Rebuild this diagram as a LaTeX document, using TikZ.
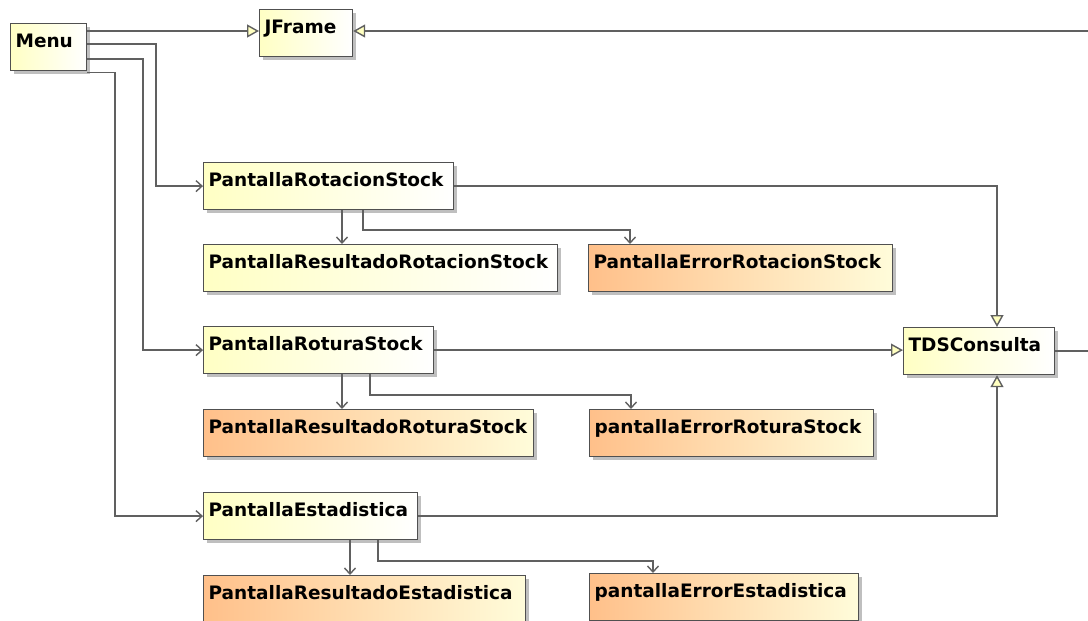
\documentclass[tikz,border=0pt]{standalone}
\usepackage{fontspec}
\setmainfont{DejaVu Sans}
\usetikzlibrary{arrows.meta,shadows}
\definecolor{boxyellow}{HTML}{FFFFC4}
\definecolor{boxorange}{HTML}{FFC08A}
\definecolor{boxcream}{HTML}{FFFCDA}
\definecolor{boxborder}{HTML}{505050}
\definecolor{linkgray}{HTML}{606060}
\definecolor{tipfill}{HTML}{FFFFC0}
\hyphenpenalty=10000

\begin{document}
\begin{tikzpicture}[
    x=1pt, y=-1pt,
    class/.style={draw=boxborder, line width=1.2pt, rectangle, anchor=north west, inner xsep=5pt, inner ysep=5pt,
        text height=19pt, text depth=18pt, align=left, font=\bfseries\fontsize{18.5}{20}\selectfont,
        drop shadow={shadow xshift=3pt, shadow yshift=-3pt, opacity=0.5}},
    plain/.style={class, left color=boxyellow, right color=white},
    screen/.style={class, left color=boxorange, right color=boxcream},
    gen/.style={draw=linkgray, line width=1.4pt, -{Triangle[length=12pt, width=13pt, fill=tipfill]}},
    assoc/.style={draw=linkgray, line width=1.4pt, -{Straight Barb[length=6pt, width=11pt]}}
]
    \useasboundingbox (0,0) rectangle (1088,621);

    % Top classes
    \node[plain, text width=66pt] (menu) at (10,23) {Menu};
    \node[plain, text width=83pt] (jframe) at (259,9) {JFrame};
    \node[plain, text width=141pt] (tds) at (903,327) {TDSConsulta};

    % Rotacion
    \node[plain, text width=240pt] (prs) at (203,162) {PantallaRotacionStock};
    \node[plain, text width=344pt] (prres) at (203,244) {PantallaResultadoRotacionStock};
    \node[screen, text width=294pt] (prerr) at (588,244) {PantallaErrorRotacionStock};

    % Rotura
    \node[plain, text width=220pt] (prot) at (203,326) {PantallaRoturaStock};
    \node[screen, text width=320pt] (protres) at (203,409) {PantallaResultadoRoturaStock};
    \node[screen, text width=274pt] (proterr) at (589,409) {pantallaErrorRoturaStock};

    % Estadistica
    \node[plain, text width=204pt] (pest) at (203,492) {PantallaEstadistica};
    \node[screen, text width=312pt] (pestres) at (203,575) {PantallaResultadoEstadistica};
    \node[screen, text width=259pt] (pesterr) at (589,573) {pantallaErrorEstadistica};

    % Off-page ends
    \coordinate (outtop) at (1088,31);
    \coordinate (outmid) at (1088,351);

    % Inheritance
    \draw[gen] ([yshift=-8pt]menu.north east) -- ([yshift=-8pt]menu.north east -| jframe.west);
    \draw[gen] (outtop) -- (outtop -| jframe.east);
    \draw[gen] (prs.east) -| ([xshift=94pt]tds.north west);
    \draw[gen] (prot.east) -- (prot.east -| tds.west);
    \draw[gen] (pest.east) -| ([xshift=94pt]tds.south west);
    \draw[draw=linkgray, line width=1.4pt] (tds.east) -- (tds.east -| outmid);

    % Menu links
    \draw[assoc] ([yshift=-21pt]menu.north east) -| ([xshift=-47pt]prs.west) -- (prs.west);
    \draw[assoc] ([yshift=-36pt]menu.north east) -| ([xshift=-60pt]prot.west) -- (prot.west);
    \draw[assoc] ([yshift=-1.5pt]menu.south east) -| ([xshift=-88pt]pest.west) -- (pest.west);

    % Screen links
    \draw[assoc] ([xshift=139pt]prs.south west) -- ([xshift=139pt]prs.south west |- prres.north);
    \draw[assoc] ([xshift=160pt]prs.south west) |- ([xshift=42pt,yshift=14pt]prerr.north west) -- ([xshift=42pt]prerr.north west);
    \draw[assoc] ([xshift=139pt]prot.south west) -- ([xshift=139pt]prot.south west |- protres.north);
    \draw[assoc] ([xshift=167pt]prot.south west) |- ([xshift=42pt,yshift=14pt]proterr.north west) -- ([xshift=42pt]proterr.north west);
    \draw[assoc] ([xshift=147pt]pest.south west) -- ([xshift=147pt]pest.south west |- pestres.north);
    \draw[assoc] ([xshift=175pt]pest.south west) |- ([xshift=64pt,yshift=12pt]pesterr.north west) -- ([xshift=64pt]pesterr.north west);

\end{tikzpicture}
\end{document}
